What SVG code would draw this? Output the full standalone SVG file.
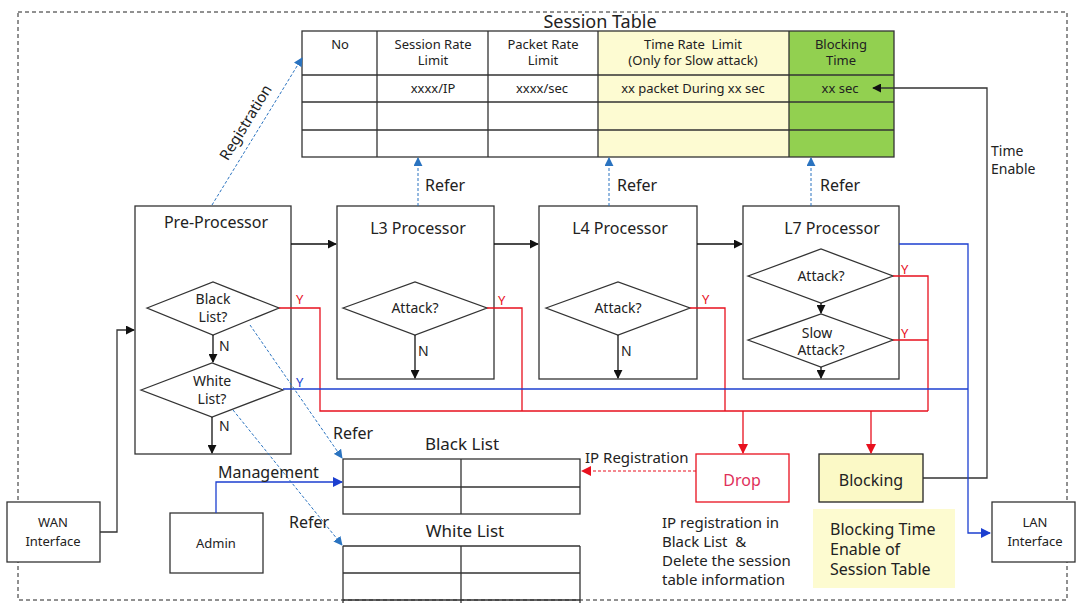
<svg xmlns="http://www.w3.org/2000/svg" width="1080" height="603" viewBox="0 0 1080 603">
<defs>
<marker id="ab" viewBox="0 0 10 10" refX="9" refY="5" markerWidth="9" markerHeight="9" markerUnits="userSpaceOnUse" orient="auto"><path d="M0,0 L10,5 L0,10 z" fill="#111"/></marker>
<marker id="ar" viewBox="0 0 10 10" refX="9" refY="5" markerWidth="10" markerHeight="10" markerUnits="userSpaceOnUse" orient="auto"><path d="M0,0 L10,5 L0,10 z" fill="#e8101e"/></marker>
<marker id="abl" viewBox="0 0 10 10" refX="9" refY="5" markerWidth="10" markerHeight="10" markerUnits="userSpaceOnUse" orient="auto"><path d="M0,0 L10,5 L0,10 z" fill="#1c3fd0"/></marker>
<marker id="alb" viewBox="0 0 10 10" refX="9" refY="5" markerWidth="9" markerHeight="9" markerUnits="userSpaceOnUse" orient="auto"><path d="M0,0 L10,5 L0,10 z" fill="#2a73c0"/></marker>
</defs>
<style>
text{font-family:"Noto Sans","Open Sans",sans-serif;fill:#222}
.box{fill:#fff;stroke:#333;stroke-width:1.3}
.ln{fill:none;stroke:#333;stroke-width:1.3}
.blk{fill:none;stroke:#111;stroke-width:1.3}
.red{fill:none;stroke:#e8101e;stroke-width:1.3}
.blu{fill:none;stroke:#1c3fd0;stroke-width:1.3}
.ref{fill:none;stroke:#2a73c0;stroke-width:1;stroke-dasharray:3,2}
.t13{font-size:13px}
.t14{font-size:14px}
.t15{font-size:15px}
.t16{font-size:16px}
.t17{font-size:17px}
.t18{font-size:18px}
.c{text-anchor:middle}
.ry{fill:#e8101e;font-size:13px}
.by{fill:#1c3fd0;font-size:13px}
</style>
<rect x="18" y="12" width="1049" height="588" fill="none" stroke="#222" stroke-width="1" stroke-dasharray="4,3"/>

<g id="session-table">
<text class="t18 c" x="600" y="28">Session Table</text>
<rect x="598" y="31" width="191" height="126" fill="#fdfbd2"/>
<rect x="789" y="31" width="105" height="126" fill="#92d050"/>
<rect x="302" y="31" width="592" height="126" fill="none" stroke="#333" stroke-width="1.3"/>
<path class="ln" d="M302,75 H894 M302,102 H894 M302,130 H894 M377,31 V157 M488,31 V157 M598,31 V157 M789,31 V157"/>
<text class="t13 c" x="340" y="49">No</text>
<text class="t13 c" x="433" y="49">Session Rate</text>
<text class="t13 c" x="433" y="65">Limit</text>
<text class="t13 c" x="543" y="49">Packet Rate</text>
<text class="t13 c" x="543" y="65">Limit</text>
<text class="t13 c" x="693" y="49" xml:space="preserve">Time Rate  Limit</text>
<text class="t13 c" x="693" y="65">(Only for Slow attack)</text>
<text class="t13 c" x="841" y="49">Blocking</text>
<text class="t13 c" x="841" y="65">Time</text>
<text class="t13 c" x="433" y="93">xxxx/IP</text>
<text class="t13 c" x="542" y="93">xxxx/sec</text>
<text class="t13 c" x="693" y="93">xx packet During xx sec</text>
<text class="t13 c" x="840" y="93">xx sec</text>
</g>

<g id="pre-processor">
<rect class="box" x="135" y="206" width="156" height="248"/>
<text class="t16 c" x="216" y="228">Pre-Processor</text>
<polygon class="box" points="147,308 213,282 279,308 213,335"/>
<text class="t14 c" x="213" y="304">Black</text>
<text class="t14 c" x="213" y="322">List?</text>
<polygon class="box" points="141,390 212,363 283,390 212,417"/>
<text class="t14 c" x="212" y="386">White</text>
<text class="t14 c" x="212" y="404">List?</text>
<text class="t14" x="219" y="351">N</text>
<text class="t14" x="219" y="431">N</text>
</g>

<g id="l3-processor">
<rect class="box" x="337" y="206" width="157" height="173"/>
<text class="t16 c" x="418" y="234">L3 Processor</text>
<polygon class="box" points="343,308 415,282 487,308 415,335"/>
<text class="t14 c" x="415" y="313">Attack?</text>
<text class="t14" x="418" y="356">N</text>
</g>

<g id="l4-processor">
<rect class="box" x="539" y="206" width="158" height="173"/>
<text class="t16 c" x="620" y="234">L4 Processor</text>
<polygon class="box" points="546,308 618,282 690,308 618,335"/>
<text class="t14 c" x="618" y="313">Attack?</text>
<text class="t14" x="621" y="356">N</text>
</g>

<g id="l7-processor">
<rect class="box" x="743" y="206" width="156" height="173"/>
<text class="t16 c" x="832" y="234">L7 Processor</text>
<polygon class="box" points="748,276 821,249 893,276 821,303"/>
<text class="t14 c" x="821" y="281">Attack?</text>
<polygon class="box" points="748,340 821,314 893,340 821,367"/>
<text class="t14 c" x="817" y="338">Slow</text>
<text class="t14 c" x="821" y="355">Attack?</text>
</g>

<g id="wan-interface">
<rect class="box" x="7" y="502" width="93" height="60"/>
<text class="t13 c" x="53" y="527">WAN</text>
<text class="t13 c" x="53" y="546">Interface</text>
</g>

<g id="admin">
<rect class="box" x="170" y="513" width="93" height="60"/>
<text class="t13 c" x="216" y="548">Admin</text>
</g>

<g id="black-list">
<text class="t17 c" x="462" y="450">Black List</text>
<rect class="box" x="343" y="459" width="237" height="55"/>
<path class="ln" d="M343,487 H580 M461,459 V514"/>
</g>

<g id="white-list">
<text class="t17 c" x="465" y="537">White List</text>
<path class="ln" d="M343,546 H580 M343,573 H580 M343,600 H580 M343,546 V603 M580,546 V603 M461,546 V603"/>
</g>

<g id="drop">
<rect x="696" y="454" width="93" height="48" fill="#fff" stroke="#e8101e" stroke-width="1.3"/>
<text class="t16 c" x="742" y="486" style="fill:#e0305a">Drop</text>
</g>

<g id="blocking">
<rect x="819" y="454" width="104" height="48" fill="#fbf9c6" stroke="#222" stroke-width="1.3"/>
<text class="t16 c" x="871" y="486">Blocking</text>
</g>

<g id="lan-interface">
<rect class="box" x="992" y="502" width="83" height="60"/>
<text class="t13 c" x="1035" y="527">LAN</text>
<text class="t13 c" x="1035" y="546">Interface</text>
</g>

<g id="notes">
<text class="t15" x="662" y="528">IP registration in</text>
<text class="t15" x="662" y="547" xml:space="preserve">Black List  &amp;</text>
<text class="t15" x="662" y="566">Delete the session</text>
<text class="t15" x="662" y="585">table information</text>
<rect x="813" y="509" width="142" height="79" fill="#fdfbd0"/>
<text class="t16" x="830" y="535">Blocking Time</text>
<text class="t16" x="830" y="555">Enable of</text>
<text class="t16" x="830" y="575">Session Table</text>
</g>

<g id="connectors">
<path class="blk" d="M291,244 H336" marker-end="url(#ab)"/>
<path class="blk" d="M494,244 H538" marker-end="url(#ab)"/>
<path class="blk" d="M697,244 H742" marker-end="url(#ab)"/>
<path class="ln" d="M100,532 H117 V330 H134" marker-end="url(#ab)"/>
<path class="blk" d="M213,335 V362" marker-end="url(#ab)"/>
<path class="blk" d="M212,417 V453" marker-end="url(#ab)"/>
<path class="blk" d="M415,335 V378" marker-end="url(#ab)"/>
<path class="blk" d="M618,335 V378" marker-end="url(#ab)"/>
<path class="blk" d="M821,303 V313" marker-end="url(#ab)"/>
<path class="blk" d="M821,367 V378" marker-end="url(#ab)"/>
<path class="ln" d="M923,478 H987 V88 H873" marker-end="url(#ab)"/>

<path class="red" d="M279,308 H320 V411 H928 M487,308 H522 V411 M690,308 H725 V411 M893,276 H928 V411 M893,340 H928"/>
<path class="red" d="M743,411 V453" marker-end="url(#ar)"/>
<path class="red" d="M871,411 V453" marker-end="url(#ar)"/>
<path fill="none" stroke="#e8101e" stroke-width="1" stroke-dasharray="3,2" d="M696,471 H582" marker-end="url(#ar)"/>

<path class="blu" d="M283,389 H968"/>
<path class="blu" d="M899,244 H968 V533 H990" marker-end="url(#abl)"/>
<path class="blu" d="M216,513 V482 H342" marker-end="url(#abl)"/>

<path class="ref" d="M212,205 L302,58" marker-end="url(#alb)"/>
<path class="ref" d="M418,206 V158" marker-end="url(#alb)"/>
<path class="ref" d="M609,206 V158" marker-end="url(#alb)"/>
<path class="ref" d="M811,206 V158" marker-end="url(#alb)"/>
<path class="ref" d="M250,325 L342,458" marker-end="url(#alb)"/>
<path class="ref" d="M233,410 L342,545" marker-end="url(#alb)"/>

<text class="t15" x="245" y="128" text-anchor="middle" transform="rotate(-58.5 245 122)">Registration</text>
<text class="t16" x="425" y="191">Refer</text>
<text class="t16" x="617" y="191">Refer</text>
<text class="t16" x="820" y="191">Refer</text>
<text class="t16" x="333" y="439">Refer</text>
<text class="t16" x="289" y="528">Refer</text>
<text class="t16" x="218" y="478">Management</text>
<text class="t15" x="585" y="463">IP Registration</text>
<text class="t14" x="991" y="156">Time</text>
<text class="t14" x="991" y="174">Enable</text>
<text class="ry" x="296" y="304">Y</text>
<text class="ry" x="498" y="305">Y</text>
<text class="ry" x="702" y="304">Y</text>
<text class="ry" x="901" y="274">Y</text>
<text class="ry" x="901" y="338">Y</text>
<text class="by" x="296" y="387">Y</text>
</g>
</svg>
